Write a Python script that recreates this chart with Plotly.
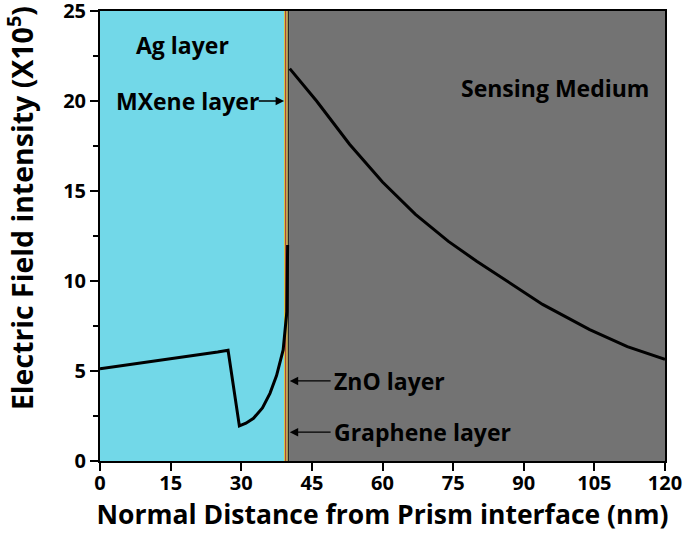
import plotly.graph_objects as go

# Data
x_ag = [0, 5, 10, 15, 20, 25, 27.2, 29.6, 31, 32.6, 34.5, 36.1, 37.5, 38.9, 39.5, 39.7, 39.85]
y_ag = [5.12, 5.3, 5.5, 5.7, 5.88, 6.05, 6.15, 1.95, 2.1, 2.37, 2.95, 3.76, 4.75, 6.17, 7.8, 8.3, 12.0]
x_sm = [40.3, 46, 53, 60, 67, 74, 80, 87, 94, 104, 112, 120]
y_sm = [21.8, 20.0, 17.6, 15.5, 13.7, 12.2, 11.1, 9.9, 8.7, 7.3, 6.35, 5.65]

x_ticks = [0, 15, 30, 45, 60, 75, 90, 105, 120]
y_ticks = [0, 5, 10, 15, 20, 25]
y_minor = [2.5, 7.5, 12.5, 17.5, 22.5]

# layer boundaries (nm)
layers = [
    ("Ag", 0, 39.1, "#72D8E8"),
    ("MXene", 39.1, 39.35, "#D4BE2A"),
    ("ZnO", 39.35, 39.6, "#8B0A0A"),
    ("ZnO2", 39.6, 39.87, "#C9B020"),
    ("Graphene", 39.87, 40.15, "#2A2A2A"),
    ("Sensing", 40.15, 120, "#737373"),
]

font_family = "Open Sans"
fig = go.Figure()

for name, x0, x1, col in layers:
    fig.add_shape(type="rect", xref="x", yref="y", x0=x0, x1=x1, y0=0, y1=25,
                  fillcolor=col, line=dict(width=0), layer="below")

fig.add_trace(go.Scatter(x=x_ag, y=y_ag, mode="lines",
                         line=dict(color="black", width=3), showlegend=False))
fig.add_trace(go.Scatter(x=x_sm, y=y_sm, mode="lines",
                         line=dict(color="black", width=3), showlegend=False))

tf = dict(family=font_family, size=23, color="black", weight="bold")

fig.add_annotation(x=7.3, y=23.1, text="Ag layer", showarrow=False, font=tf,
                   xanchor="left", yanchor="middle")
fig.add_annotation(x=3.0, y=20.0, text="MXene layer", showarrow=False, font=tf,
                   xanchor="left", yanchor="middle")
fig.add_annotation(x=76.2, y=20.7, text="Sensing Medium", showarrow=False, font=tf,
                   xanchor="left", yanchor="middle")
fig.add_annotation(x=49.3, y=4.45, text="ZnO layer", showarrow=False, font=tf,
                   xanchor="left", yanchor="middle")
fig.add_annotation(x=49.3, y=1.6, text="Graphene layer", showarrow=False, font=tf,
                   xanchor="left", yanchor="middle")

# arrows
arrow_common = dict(showarrow=True, arrowhead=2, arrowsize=1.3, arrowwidth=1.3,
                    arrowcolor="black", text="", axref="x", ayref="y", xref="x", yref="y")
fig.add_annotation(x=39.1, y=20.0, ax=33.4, ay=20.0, **arrow_common)
fig.add_annotation(x=40.3, y=4.45, ax=49.3, ay=4.45, **arrow_common)
fig.add_annotation(x=40.3, y=1.6, ax=49.3, ay=1.6, **arrow_common)

# y axis title as rotated annotation
fig.add_annotation(xref="paper", yref="paper", x=-0.1416, y=0.562,
                   text="Electric Field intensity (X10<sup>5</sup>)", textangle=-90,
                   showarrow=False, xanchor="center", yanchor="middle",
                   font=dict(family=font_family, size=28.5, color="black", weight="bold"))

axis_font = dict(family=font_family, size=20, color="black", weight="bold")
title_font = dict(family=font_family, size=26.5, color="black", weight="bold")

fig.update_xaxes(range=[0, 120], tickvals=x_ticks,
                 ticks="outside", ticklen=8, tickwidth=2, tickcolor="black",
                 showline=True, linewidth=2, linecolor="black", mirror=True,
                 showgrid=False, zeroline=False, tickfont=axis_font, automargin=False,
                 ticklabelstandoff=-5, ticklabeloverflow="allow",
                 title=dict(text="Normal Distance from Prism interface (nm)",
                            font=title_font, standoff=8))
fig.update_yaxes(range=[0, 25], tickvals=y_ticks,
                 ticks="outside", ticklen=8, tickwidth=2, tickcolor="black",
                 minor=dict(tickvals=y_minor, ticks="outside",
                            ticklen=5, tickwidth=2, tickcolor="black"),
                 showline=True, linewidth=2, linecolor="black", mirror=True,
                 showgrid=False, zeroline=False, tickfont=axis_font, automargin=False,
                 ticklabeloverflow="allow")

fig.update_layout(width=685, height=546, margin=dict(l=100, r=20, t=11, b=85),
                  plot_bgcolor="white", paper_bgcolor="white")

fig.write_html("out.html", config={"displayModeBar": False},
               post_script="document.body.style.margin='0';document.body.style.padding='0';")
